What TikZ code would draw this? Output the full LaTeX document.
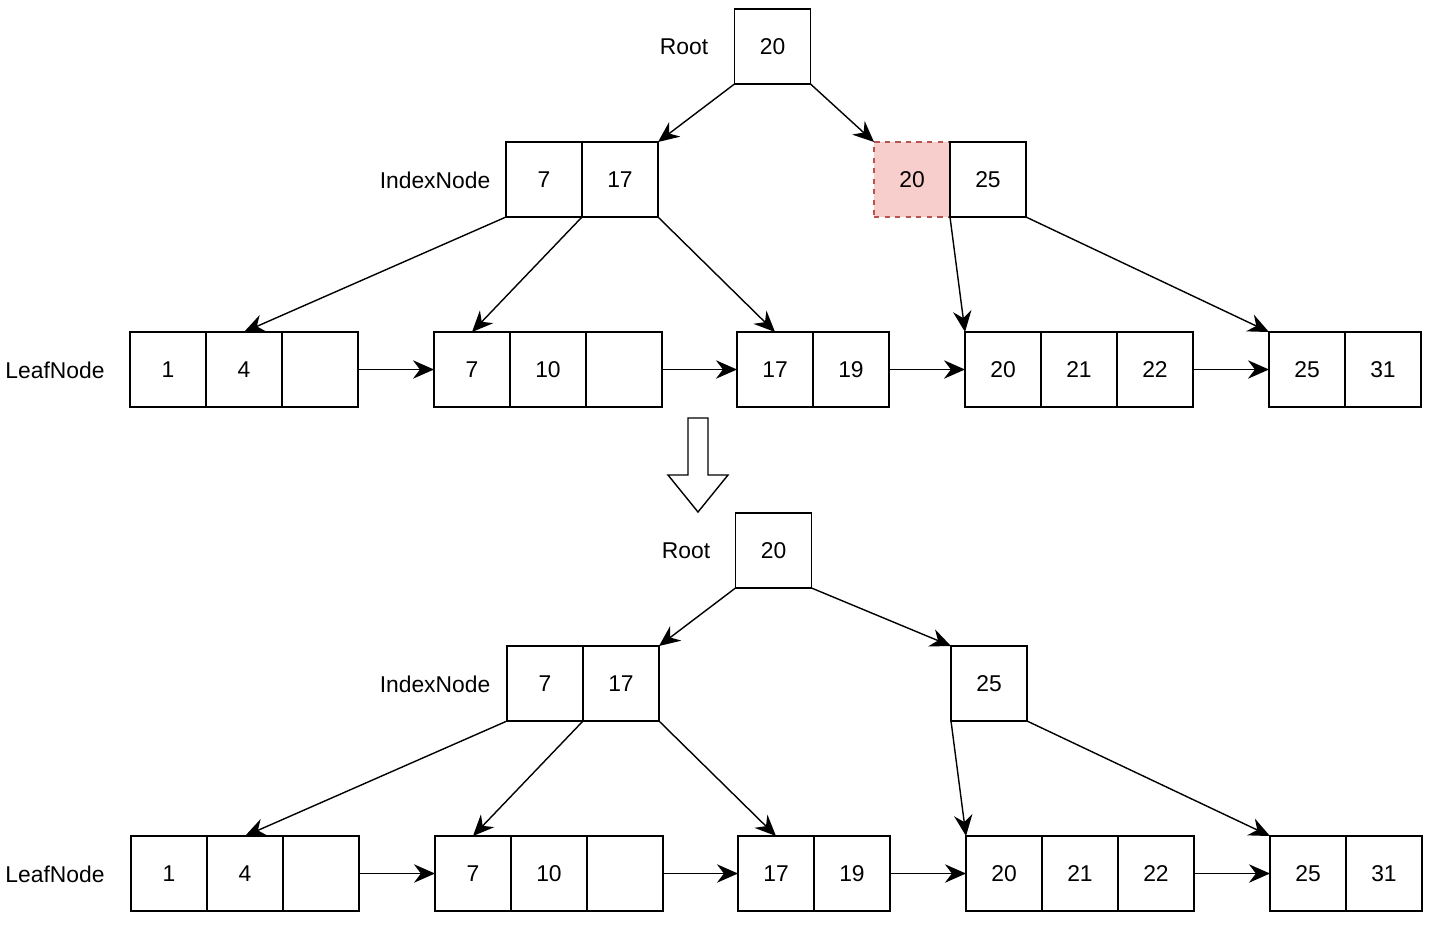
\documentclass[tikz,border=0pt]{standalone}
\usepackage{fontspec}
\setmainfont{Liberation Sans}
\usepackage{tikz}
\usetikzlibrary{arrows.meta,positioning}
\usepackage{xcolor}
\definecolor{bpInk}{HTML}{000000}
\definecolor{bpRedFill}{HTML}{F8CECC}
\definecolor{bpRedLine}{HTML}{B85450}
\tikzset{
  cell/.style={draw=bpInk, line width=0.8pt, minimum width=1.52cm, minimum height=1.5cm, inner sep=0pt, outer sep=0pt, font=\fontsize{13}{15}\selectfont},
  cellR/.style={cell, draw=bpRedLine, fill=bpRedFill, dashed},
  lbl/.style={inner sep=0pt, font=\fontsize{13}{15}\selectfont},
  arr/.style={-{Stealth[length=12pt,width=10.5pt,inset=4pt]}, line width=0.8pt, draw=bpInk},
}
\begin{document}
\begin{tikzpicture}[x=0.02cm, y=-0.02cm]
  \useasboundingbox (0,0) rectangle (1430,924);
  % before
  \node[cell] (tRoot) at (772.5,46.5) {20};
  \node[lbl] (tRootL) at (684,47) {Root};
  \node[cell] (tI1a) at (544,179.5) {7};
  \node[cell, right=0pt of tI1a] (tI1b) {17};
  \node[lbl] (tIdxL) at (435,180) {IndexNode};
  \node[cellR] (tI2a) at (912,179.5) {20};
  \node[cell, right=0pt of tI2a] (tI2b) {25};
  \node[lbl] (tLeafL) at (55,370) {LeafNode};
  \node[cell] (tL1a) at (168,369.5) {1};
  \node[cell, right=0pt of tL1a] (tL1b) {4};
  \node[cell, right=0pt of tL1b] (tL1c) {};
  \node[cell] (tL2a) at (472,369.5) {7};
  \node[cell, right=0pt of tL2a] (tL2b) {10};
  \node[cell, right=0pt of tL2b] (tL2c) {};
  \node[cell] (tL3a) at (775,369.5) {17};
  \node[cell, right=0pt of tL3a] (tL3b) {19};
  \node[cell] (tL4a) at (1003,369.5) {20};
  \node[cell, right=0pt of tL4a] (tL4b) {21};
  \node[cell, right=0pt of tL4b] (tL4c) {22};
  \node[cell] (tL5a) at (1307,369.5) {25};
  \node[cell, right=0pt of tL5a] (tL5b) {31};
  \draw[arr] (tRoot.south west) -- (tI1b.north east);
  \draw[arr] (tRoot.south east) -- (tI2a.north west);
  \draw[arr] (tI1a.south west) -- (tL1b.north);
  \draw[arr] (tI1a.south east) -- (tL2a.north);
  \draw[arr] (tI1b.south east) -- (tL3a.north);
  \draw[arr] (tI2a.south east) -- (tL4a.north west);
  \draw[arr] (tI2b.south east) -- (tL5a.north west);
  \draw[arr] (tL1c.east) -- (tL2a.west);
  \draw[arr] (tL2c.east) -- (tL3a.west);
  \draw[arr] (tL3b.east) -- (tL4a.west);
  \draw[arr] (tL4c.east) -- (tL5a.west);
  % hollow arrow
  \draw[line width=0.8pt, fill=white] (688,418) -- (708,418) -- (708,475) -- (728,475) -- (698,512) -- (668,475) -- (688,475) -- cycle;
  % after
  \node[cell] (bRoot) at (773.5,550.5) {20};
  \node[lbl] (bRootL) at (686,551) {Root};
  \node[cell] (bI1a) at (545,683.5) {7};
  \node[cell, right=0pt of bI1a] (bI1b) {17};
  \node[lbl] (bIdxL) at (435,684) {IndexNode};
  \node[cell] (bI2) at (989,683.5) {25};
  \node[lbl] (bLeafL) at (55,874) {LeafNode};
  \node[cell] (bL1a) at (169,873.5) {1};
  \node[cell, right=0pt of bL1a] (bL1b) {4};
  \node[cell, right=0pt of bL1b] (bL1c) {};
  \node[cell] (bL2a) at (473,873.5) {7};
  \node[cell, right=0pt of bL2a] (bL2b) {10};
  \node[cell, right=0pt of bL2b] (bL2c) {};
  \node[cell] (bL3a) at (776,873.5) {17};
  \node[cell, right=0pt of bL3a] (bL3b) {19};
  \node[cell] (bL4a) at (1004,873.5) {20};
  \node[cell, right=0pt of bL4a] (bL4b) {21};
  \node[cell, right=0pt of bL4b] (bL4c) {22};
  \node[cell] (bL5a) at (1308,873.5) {25};
  \node[cell, right=0pt of bL5a] (bL5b) {31};
  \draw[arr] (bRoot.south west) -- (bI1b.north east);
  \draw[arr] (bRoot.south east) -- (bI2.north west);
  \draw[arr] (bI1a.south west) -- (bL1b.north);
  \draw[arr] (bI1a.south east) -- (bL2a.north);
  \draw[arr] (bI1b.south east) -- (bL3a.north);
  \draw[arr] (bI2.south west) -- (bL4a.north west);
  \draw[arr] (bI2.south east) -- (bL5a.north west);
  \draw[arr] (bL1c.east) -- (bL2a.west);
  \draw[arr] (bL2c.east) -- (bL3a.west);
  \draw[arr] (bL3b.east) -- (bL4a.west);
  \draw[arr] (bL4c.east) -- (bL5a.west);
\end{tikzpicture}
\end{document}
